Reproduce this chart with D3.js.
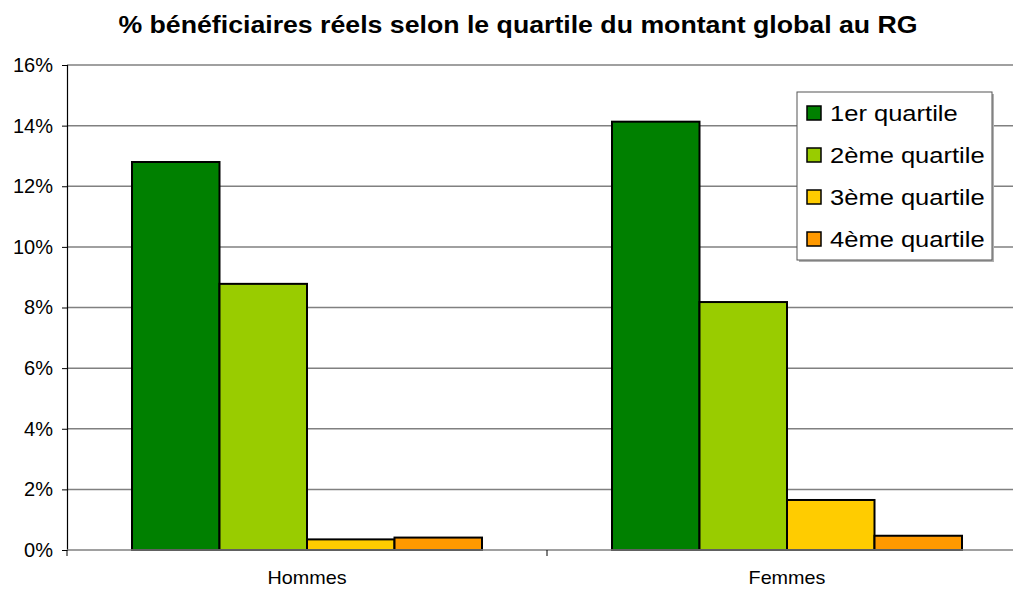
<!DOCTYPE html>
<html>
<head>
<meta charset="utf-8">
<script src="https://cdn.jsdelivr.net/npm/d3@7"></script>
<style>
    body { margin: 0; background: #fff; }
    text { font-family: "Liberation Sans", Arial, sans-serif; }
</style>
</head>
<body>
<div id="chart"></div>
<script>
// données
var categories = ["Hommes", "Femmes"];
var seriesNames = ["1er quartile", "2ème quartile", "3ème quartile", "4ème quartile"];
var q1 = [12.8, 14.13];
var q2 = [8.78, 8.18];
var q3 = [0.35, 1.65];
var q4 = [0.41, 0.47];
var yTicks = [0, 2, 4, 6, 8, 10, 12, 14, 16];

var colors = ["#008000", "#99cc00", "#ffcc00", "#ff9900"];
var allSeries = [q1, q2, q3, q4];

var width = 1013, height = 589;
var margin = { top: 65, left: 67, bottom: 39 };
var plotW = 960;
var plotH = height - margin.top - margin.bottom; // 485

// le texte du modèle est un peu plus large
function stretch(sel, k) {
    sel.each(function() {
        var w = this.getComputedTextLength();
        d3.select(this).attr("textLength", w * k).attr("lengthAdjust", "spacingAndGlyphs");
    });
}

var svg = d3.select("#chart").append("svg")
    .attr("width", width)
    .attr("height", height);

// titre
svg.append("text")
    .attr("x", 518)
    .attr("y", 33)
    .attr("text-anchor", "middle")
    .attr("font-size", "23px")
    .attr("font-weight", "bold")
    .text("% bénéficiaires réels selon le quartile du montant global au RG")
    .call(stretch, 1.16);

var g = svg.append("g")
    .attr("transform", "translate(" + margin.left + "," + margin.top + ")");

var x0 = d3.scaleBand().domain(categories).range([0, plotW]).paddingInner(0).paddingOuter(0);
var groupPad = 65;
var x1 = d3.scaleBand().domain(d3.range(seriesNames.length))
    .range([groupPad, x0.bandwidth() - groupPad]);
var y = d3.scaleLinear().domain([0, 16]).range([plotH, 0]);

// grille
g.append("g").selectAll("line")
    .data(yTicks.filter(function(d) { return d > 0; }))
    .enter().append("line")
    .attr("x1", 0).attr("x2", plotW)
    .attr("y1", function(d) { return y(d); })
    .attr("y2", function(d) { return y(d); })
    .attr("stroke", "#808080")
    .attr("stroke-width", 1.5);

// axe Y
var yAxis = g.append("g")
    .call(d3.axisLeft(y).tickValues(yTicks).tickSize(5).tickPadding(9)
        .tickFormat(function(d) { return d + "%"; }));
yAxis.select(".domain").attr("stroke", "#000").attr("stroke-width", 1.2);
yAxis.selectAll(".tick line").attr("stroke", "#000");
yAxis.selectAll("text").attr("font-size", "20px").attr("fill", "#000")
    .attr("font-family", "Liberation Sans, Arial, sans-serif");

// barres
var groups = g.selectAll(".grp")
    .data(categories)
    .enter().append("g")
    .attr("class", "grp")
    .attr("transform", function(d) { return "translate(" + x0(d) + ",0)"; });

groups.each(function(cat, ci) {
    d3.select(this).selectAll("rect")
        .data(allSeries.map(function(s, si) { return { si: si, v: s[ci] }; }))
        .enter().append("rect")
        .attr("x", function(d) { return x1(d.si); })
        .attr("width", x1.bandwidth())
        .attr("y", function(d) { return y(d.v); })
        .attr("height", function(d) { return plotH - y(d.v); })
        .attr("fill", function(d) { return colors[d.si]; })
        .attr("stroke", "#000")
        .attr("stroke-width", 2);
});

// axe X
var xAxis = g.append("g")
    .attr("transform", "translate(0," + plotH + ")");
xAxis.append("line")
    .attr("x1", 0).attr("x2", plotW)
    .attr("stroke", "#808080").attr("stroke-width", 1.5);
xAxis.selectAll(".sep")
    .data([0, plotW / 2, plotW])
    .enter().append("line")
    .attr("x1", function(d) { return d; })
    .attr("x2", function(d) { return d; })
    .attr("y1", 0).attr("y2", 6)
    .attr("stroke", "#000");
xAxis.selectAll(".lbl")
    .data(categories)
    .enter().append("text")
    .attr("x", function(d) { return x0(d) + x0.bandwidth() / 2; })
    .attr("y", 34)
    .attr("text-anchor", "middle")
    .attr("font-size", "19px")
    .text(function(d) { return d; })
    .call(stretch, 1.04);

// légende
var legend = svg.append("g").attr("transform", "translate(797,92)");
legend.append("rect")
    .attr("x", 2).attr("y", 2)
    .attr("width", 195).attr("height", 168)
    .attr("fill", "#b0b0b0");
legend.append("rect")
    .attr("width", 195).attr("height", 168)
    .attr("fill", "#fff")
    .attr("stroke", "#555")
    .attr("stroke-width", 1);
var items = legend.selectAll(".item")
    .data(seriesNames)
    .enter().append("g")
    .attr("transform", function(d, i) { return "translate(10," + (21 + i * 42) + ")"; });
items.append("rect")
    .attr("x", 0).attr("y", -7)
    .attr("width", 14).attr("height", 14)
    .attr("fill", function(d, i) { return colors[i]; })
    .attr("stroke", "#000")
    .attr("stroke-width", 1.5);
items.append("text")
    .attr("x", 23)
    .attr("y", 8)
    .attr("font-size", "22px")
    .text(function(d) { return d; })
    .call(stretch, 1.16);
</script>
</body>
</html>
